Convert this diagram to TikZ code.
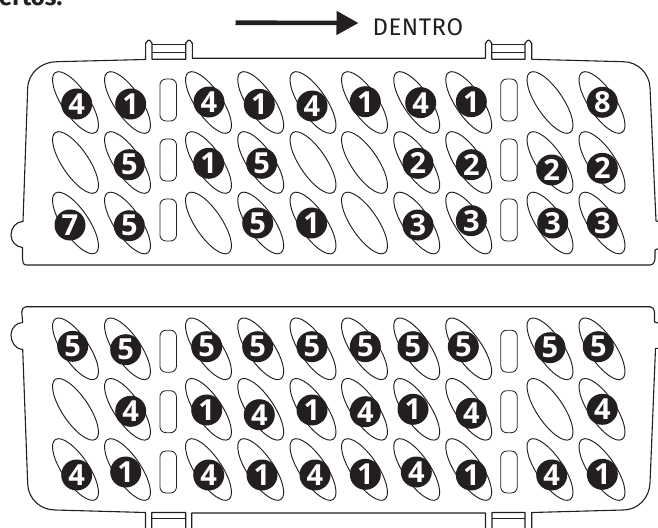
\documentclass[tikz,border=0pt]{standalone}
\usepackage{fontspec}
\setmainfont{Fira Sans}
\newfontfamily\digitfont{Open Sans}
\usetikzlibrary{arrows.meta,shapes.geometric}
\definecolor{inkblack}{RGB}{35,31,32}
\newcommand{\platedgewidth}{1.1pt}
\tikzset{
  hole/.style={ellipse,draw=inkblack,line width=0.95pt,minimum width=72.2pt,minimum height=26.5pt,inner sep=0pt,rotate=-56},
  slot/.style={rectangle,rounded corners=6pt,draw=inkblack,line width=0.85pt,minimum width=16.5pt,minimum height=42pt,inner sep=0pt},
  badge/.style={circle,fill=inkblack,text=white,minimum size=31pt,inner sep=0pt,font=\digitfont\fontsize{29}{29}\selectfont\bfseries},
  edge/.style={draw=inkblack,line width=\platedgewidth,line join=round}
}
\begin{document}
\begin{tikzpicture}[x=1pt,y=-1pt]
  \useasboundingbox (0,0) rectangle (658,527);
  % heading and direction
  \node[anchor=base west,inner sep=0pt,text=inkblack,font=\fontsize{24}{24}\selectfont\bfseries] (title) at (-1,5.5) {ertos.};
  \coordinate (arrowstart) at (235.5,22.7);
  \coordinate (arrowend) at (358.5,23);
  \draw[inkblack,line width=4.6pt,-{Triangle[length=22pt,width=23pt]}] (arrowstart) -- (arrowend);
  \node[anchor=base west,inner sep=0pt,text=inkblack,font=\fontsize{24}{24}\selectfont] (dentro) at (372.5,35.7) {\addfontfeature{LetterSpace=2}DENTRO};

  % upper plate
  \draw[edge] (26,265) -- (650,265) to[out=0,in=-90] (655,258) -- (655,250) -- (662,247)
    (662,222) -- (656,221) -- (650,88) to[out=92,in=0] (623,61.7) -- (531.7,59.3) -- (531.7,43)
    to[out=-90,in=0] (528.5,40) to[out=180,in=-90] (525,43) -- (525,59.3) -- (491.7,59.3) -- (491.7,43)
    to[out=-90,in=0] (488.7,40) to[out=180,in=-90] (485.5,43) -- (485.5,58.3) -- (192.3,58.3) -- (192.3,43)
    to[out=-90,in=0] (189,40) to[out=180,in=-90] (185.7,43) -- (185.7,59.3) -- (152,59.3) -- (152,43)
    to[out=-90,in=0] (149,40) to[out=180,in=-90] (145.7,43) -- (145.5,59.5) -- (57,61.7)
    to[out=180,in=88] (27.7,88) -- (23,221.5) to[out=180,in=90] (11,235) to[out=-90,in=175] (22.5,247.5)
    -- (22.5,258) to[out=-90,in=180] (26,265);
  \draw[edge] (152,44.5) -- (185.7,44.5) (152,52.3) -- (185.7,52.3);
  \draw[edge] (491.7,44.5) -- (525,44.5) (491.7,52.3) -- (525,52.3);

  % lower plate
  \draw[edge] (26,306.7) -- (650,306.7) to[out=0,in=90] (654.5,312) -- (654.5,322) -- (662,324)
    (662,348) -- (655.5,348.5) -- (650,483) to[out=-92,in=0] (623,510) -- (531.7,512.5) -- (531.7,530)
    (525,530) -- (525,512.5) -- (492,512.5) -- (492,530) (485.5,530) -- (485.5,513) -- (191.7,513) -- (191.7,530)
    (185.7,530) -- (185.7,512.5) -- (151.7,512.5) -- (151.7,530) (145.5,530) -- (145.5,512.5) -- (55,510)
    to[out=180,in=-88] (27.7,484) -- (22.7,349.5) to[out=175,in=-90] (11,335) to[out=90,in=180] (22.7,322.5)
    -- (21.7,312) to[out=90,in=180] (26,306.7);
  \draw[edge] (151.7,518.3) -- (185.7,518.3) (492,518.3) -- (525,518.3);

  % holes
  \foreach \rowname/\rowy in {a/102.5,b/162.5,c/223,d/348.8,e/409.3,f/469.5}
    \foreach \colname/\colx in {1/75.5,2/127.5,3/208.5,4/260.7,5/313,6/364.5,7/416.7,8/468.7,9/550,10/602}
      \node[hole] (hole\rowname\colname) at (\colx,\rowy) {};

  % slots
  \foreach \slotname/\sloty in {a/100,b/160,c/220,d/351.2,e/411.7,f/472} {
    \node[slot] (slotl\slotname) at (168.2,\sloty) {};
    \node[slot] (slotr\slotname) at (509,\sloty) {};
  }

  % numbers
  \foreach \nx/\ny/\num in {
    76.7/104/4,130.7/104/1,209/102/4,259.3/104.3/1,312/106/4,365.3/101.7/1,420.7/102.7/4,471.3/101.7/1,602.3/102.3/8,
    129.3/164.7/5,208.7/163.3/1,261.7/163.3/5,418/163.3/2,471.3/164.7/2,551.7/170/2,602.3/168.3/2,
    70/225/7,129.3/225.7/5,257.7/223/5,311.7/223/1,418/225/3,471.3/220.7/3,552.7/223/3,602.3/223/3,
    72.7/346.3/5,125.7/349.7/5,206.7/346.7/5,257.7/346.7/5,312/346.7/5,365.3/346.7/5,413/346.7/5,463.3/346.7/5,550/347.7/5,598.3/346.7/5,
    130.7/411.3/4,206.7/410/1,259.3/414.7/4,312/410/1,365.3/411.7/4,413/409.3/1,471.3/413.3/4,602.3/409.3/4,
    76.7/475/4,125.7/472/1,208.7/475/4,262/475/1,315/475/4,365.3/474.3/1,416.3/472/4,471.3/475/1,551.7/475/4,602.3/474.3/1}
    \node[badge] at (\nx,\ny) {\num};
\end{tikzpicture}
\end{document}
